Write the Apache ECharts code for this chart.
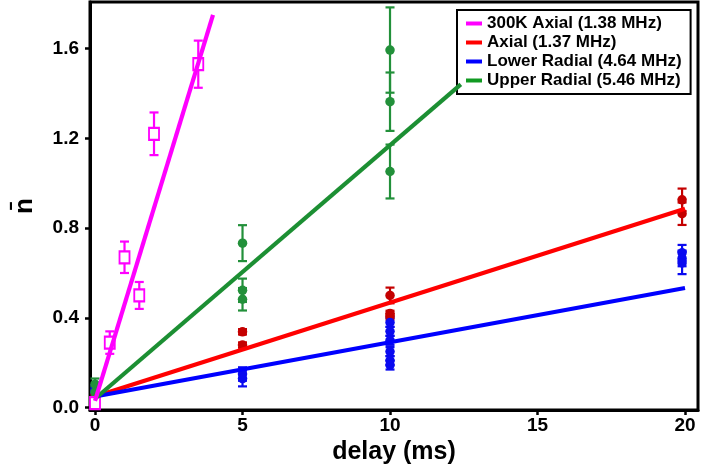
<!DOCTYPE html>
<html>
<head>
<meta charset="utf-8">
<title>Heating rate vs delay</title>
<script src="https://cdn.jsdelivr.net/npm/echarts@6/dist/echarts.min.js"></script>
<style>
  html, body { margin: 0; padding: 0; background: #fff; }
  #chart { width: 701px; height: 476px; }
</style>
</head>
<body>
<div id="chart"></div>
<script>
// Measured mean phonon number n̄ versus delay, with fitted heating lines.
// Each point is [delay (ms), n̄, error].
const seriesNames = [
  '300K Axial (1.38 MHz)',
  'Axial (1.37 MHz)',
  'Lower Radial (4.64 MHz)',
  'Upper Radial (5.46 MHz)'
];

const axial300K = [
  [0, 0.02, 0.02], [0.5, 0.29, 0.05], [1, 0.67, 0.07],
  [1.5, 0.50, 0.06], [2, 1.22, 0.095], [3.5, 1.53, 0.105]
];
const axial = [
  [0, 0.06, 0.015], [5, 0.338, 0.012], [5, 0.279, 0.012],
  [10, 0.50, 0.035], [10, 0.42, 0.012], [10, 0.405, 0.012],
  [19.9, 0.926, 0.05], [19.9, 0.864, 0.05]
];
const lowerRadial = [
  [0, 0.08, 0.02], [0, 0.07, 0.02], [5, 0.15, 0.03], [5, 0.13, 0.035],
  [10, 0.38, 0.02], [10, 0.34, 0.02], [10, 0.30, 0.02],
  [10, 0.25, 0.02], [10, 0.21, 0.02], [10, 0.19, 0.02],
  [19.9, 0.69, 0.035], [19.9, 0.665, 0.035], [19.9, 0.645, 0.05]
];
const upperRadial = [
  [0, 0.105, 0.025], [0, 0.07, 0.025], [0, 0.04, 0.025],
  [5, 0.733, 0.08], [5, 0.523, 0.052], [5, 0.483, 0.05],
  [10, 1.593, 0.19], [10, 1.363, 0.13], [10, 1.052, 0.12]
];

// Fitted lines, as [delay, n̄] end points
const axial300KFit = [[0, 0.03], [4.0, 1.75]];
const axialFit = [[0, 0.05], [20, 0.886]];
const lowerRadialFit = [[0, 0.05], [20, 0.533]];
const upperRadialFit = [[0, 0.04], [12.4, 1.44]];

const xTicks = [0, 5, 10, 15, 20];
const yTicks = [0, 0.4, 0.8, 1.2, 1.6];

const lineColors = ['#ff00ff', '#ff0000', '#0000ff', '#1c8f33'];
const markColors = ['#ff00ff', '#c40000', '#0a0af0', '#22903a'];
const legendColors = ['#ff00ff', '#ff0000', '#0000ff', '#119a22'];

const FONT = '"Liberation Sans", Arial, sans-serif';

function errorBars(data, color, z) {
  return {
    type: 'custom',
    data: data,
    encode: { x: 0, y: 1 },
    z: z,
    silent: true,
    renderItem: function (params, api) {
      const x = api.value(0), y = api.value(1), e = api.value(2);
      const top = api.coord([x, y + e]);
      const bot = api.coord([x, y - e]);
      const hw = 4.5;
      const style = { stroke: color, lineWidth: 2.2 };
      return {
        type: 'group',
        children: [
          { type: 'line', shape: { x1: top[0], y1: top[1], x2: bot[0], y2: bot[1] }, style: style },
          { type: 'line', shape: { x1: top[0] - hw, y1: top[1], x2: top[0] + hw, y2: top[1] }, style: style },
          { type: 'line', shape: { x1: bot[0] - hw, y1: bot[1], x2: bot[0] + hw, y2: bot[1] }, style: style }
        ]
      };
    }
  };
}

function points(name, data, color, opts) {
  return Object.assign({
    type: 'scatter',
    name: name,
    data: data.map(d => [d[0], d[1]]),
    symbol: 'circle',
    symbolSize: 9.5,
    z: 3,
    itemStyle: { color: color, opacity: 1 }
  }, opts || {});
}

function fitLine(name, data, color) {
  return {
    type: 'line',
    name: name,
    data: data,
    showSymbol: false,
    symbol: 'none',
    z: 4,
    lineStyle: { color: color, width: 4.2 },
    itemStyle: { color: color },
    animation: false
  };
}

const chart = echarts.init(document.getElementById('chart'), null, { renderer: 'canvas' });

const option = {
  animation: false,
  backgroundColor: '#ffffff',
  textStyle: { fontFamily: FONT },
  grid: {
    left: 90, top: 2, width: 608, height: 408,
    show: true, borderColor: '#000', borderWidth: 3,
    outerBoundsMode: 'none'
  },
  legend: {
    orient: 'vertical',
    left: 457, top: 10,
    padding: [5, 9, 5, 9],
    itemGap: 2,
    itemWidth: 16, itemHeight: 4,
    icon: 'rect',
    borderColor: '#000', borderWidth: 2,
    backgroundColor: '#fff',
    selectedMode: false,
    textStyle: { fontFamily: FONT, fontWeight: 'bold', fontSize: 17, color: '#000' },
    data: seriesNames.map((n, i) => ({ name: n, itemStyle: { color: legendColors[i] } }))
  },
  xAxis: {
    type: 'value',
    min: -0.17, max: 20.44,
    name: 'delay (ms)',
    nameLocation: 'middle',
    nameGap: 29,
    nameTextStyle: { fontFamily: FONT, fontWeight: 'bold', fontSize: 25, color: '#000' },
    axisLine: { show: true, onZero: false, lineStyle: { color: '#000', width: 3 } },
    axisTick: { show: true, customValues: xTicks, length: 5, lineStyle: { color: '#000', width: 2.5 } },
    axisLabel: {
      customValues: xTicks, margin: 6,
      fontFamily: FONT, fontWeight: 'bold', fontSize: 19, color: '#000'
    },
    splitLine: { show: false }
  },
  yAxis: {
    type: 'value',
    min: -0.0102, max: 1.807,
    name: 'n\u0304',
    nameLocation: 'middle',
    nameRotate: 90,
    nameGap: 52,
    nameTextStyle: { fontFamily: FONT, fontWeight: 'bold', fontSize: 26, color: '#000' },
    axisLine: { show: true, onZero: false, lineStyle: { color: '#000', width: 3 } },
    axisTick: { show: true, customValues: yTicks, length: 5, lineStyle: { color: '#000', width: 2.5 } },
    axisLabel: {
      customValues: yTicks, margin: 11,
      formatter: v => v.toFixed(1),
      fontFamily: FONT, fontWeight: 'bold', fontSize: 19, color: '#000'
    },
    splitLine: { show: false }
  },
  series: [
    errorBars(axial, markColors[1], 2),
    points('Axial points', axial, markColors[1]),
    errorBars(lowerRadial, markColors[2], 2),
    points('Lower Radial points', lowerRadial, markColors[2]),
    errorBars(upperRadial, markColors[3], 2),
    points('Upper Radial points', upperRadial, markColors[3]),
    errorBars(axial300K, markColors[0], 2),
    points('300K Axial points', axial300K, markColors[0], {
      symbol: 'rect', symbolSize: [10, 12],
      itemStyle: { color: '#fff', borderColor: markColors[0], borderWidth: 2, opacity: 1 }
    }),
    fitLine(seriesNames[1], axialFit, lineColors[1]),
    fitLine(seriesNames[2], lowerRadialFit, lineColors[2]),
    fitLine(seriesNames[3], upperRadialFit, lineColors[3]),
    fitLine(seriesNames[0], axial300KFit, lineColors[0])
  ]
};

chart.setOption(option);
</script>
</body>
</html>
